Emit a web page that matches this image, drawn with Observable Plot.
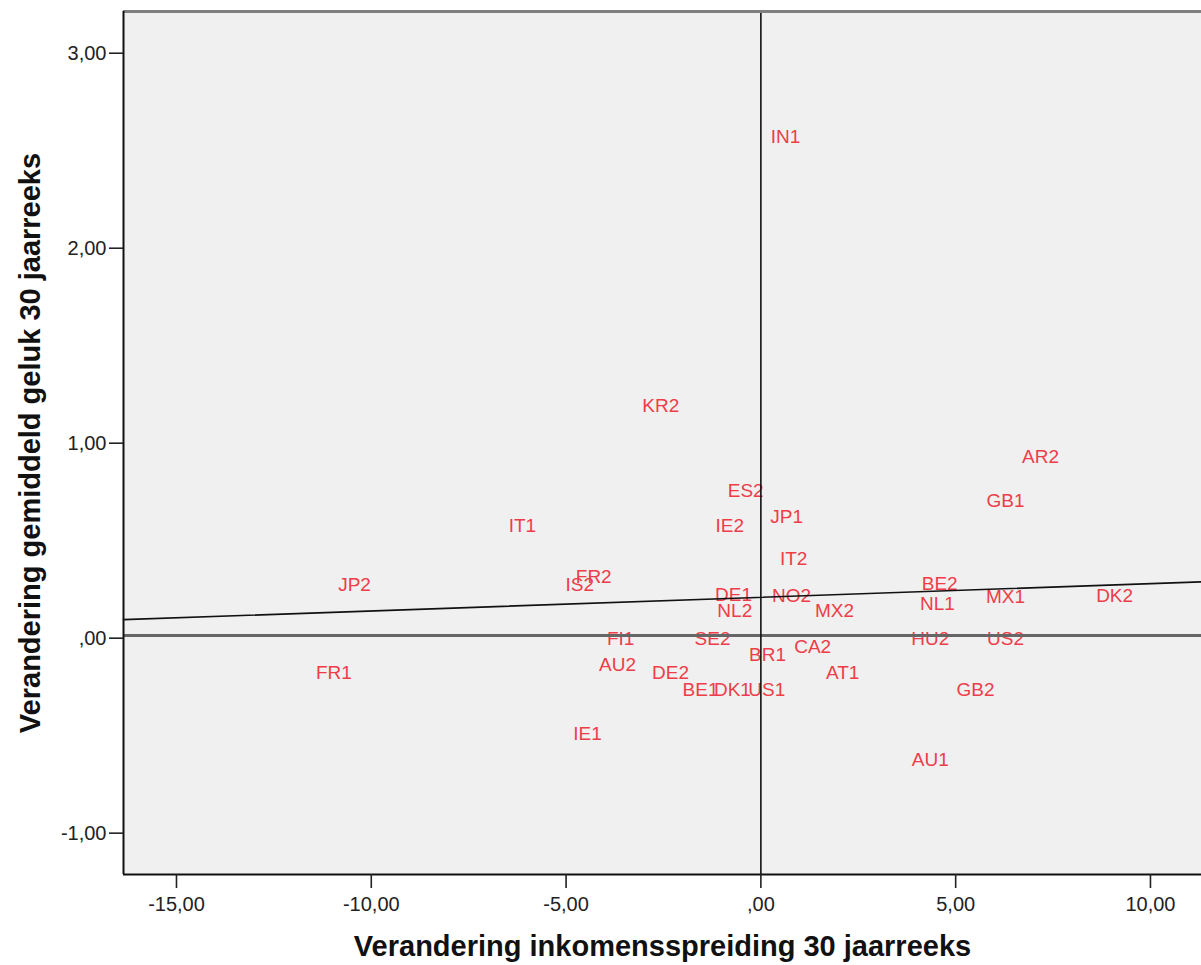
<!DOCTYPE html>
<html>
<head>
<meta charset="utf-8">
<script src="https://cdn.jsdelivr.net/npm/d3@7"></script>
<script src="https://cdn.jsdelivr.net/npm/@observablehq/plot@0.6"></script>
<style>
  html, body { margin: 0; padding: 0; background: #ffffff; }
  #chart svg { display: block; }
</style>
</head>
<body>
<div id="chart"></div>
<script>
// Country-period labels and their positions (change in income inequality, change in happiness)
const labels = ["IN1","KR2","AR2","ES2","GB1","IT1","JP1","IE2","IT2","JP2","FR2","IS2","BE2","DE1","NO2","MX1","DK2","NL1","NL2","MX2","FI1","SE2","HU2","US2","CA2","BR1","AU2","FR1","DE2","AT1","BE1","DK1","US1","GB2","IE1","AU1"];
const inkomensspreiding = [0.63,-2.57,7.18,-0.39,6.28,-6.12,0.66,-0.80,0.84,-10.43,-4.29,-4.65,4.59,-0.70,0.79,6.28,9.08,4.53,-0.67,1.89,-3.60,-1.24,4.35,6.28,1.33,0.17,-3.68,-10.96,-2.32,2.10,-1.55,-0.73,0.15,5.51,-4.45,4.35];
const geluk = [2.573,1.193,0.932,0.757,0.706,0.578,0.624,0.578,0.405,0.271,0.312,0.271,0.276,0.224,0.219,0.214,0.219,0.178,0.142,0.142,-0.002,-0.002,-0.002,-0.002,-0.043,-0.084,-0.135,-0.176,-0.176,-0.176,-0.263,-0.263,-0.263,-0.263,-0.489,-0.622];

// Fit line (endpoints across the plot) and reference lines
const fitX = [-16.36, 11.31];
const fitY = [0.095, 0.289];
const meanGeluk = 0.014;
const zeroX = 0;

// Axes
const xTicks = [-15, -10, -5, 0, 5, 10];
const yTicks = [-1, 0, 1, 2, 3];
const xDomain = [-16.36, 11.31];
const yDomain = [-1.212, 3.214];
const xTitle = "Verandering inkomensspreiding 30 jaarreeks";
const yTitle = "Verandering gemiddeld geluk 30 jaarreeks";

const points = labels.map((l, i) => ({label: l, x: inkomensspreiding[i], y: geluk[i]}));
const fitLine = fitX.map((x, i) => ({x, y: fitY[i]}));

const fmt = d => {
  let s = Math.abs(d).toFixed(2).replace(".", ",");
  if (s.startsWith("0")) s = s.slice(1);
  return (d < 0 ? "-" : "") + s;
};

const chart = Plot.plot({
  width: 1201,
  height: 965,
  marginLeft: 123,
  marginRight: 0,
  marginTop: 11,
  marginBottom: 91,
  style: {fontFamily: "'Liberation Sans', Arial, sans-serif", fontSize: "20px", background: "#ffffff", color: "#222"},
  x: {domain: xDomain},
  y: {domain: yDomain},
  marks: [
    Plot.frame({fill: "#f0f0f0", stroke: "none"}),
    Plot.text(points, {x: "x", y: "y", text: "label", fill: "#ee3d48", fontSize: 19}),
    Plot.ruleY([meanGeluk], {stroke: "#666", strokeWidth: 3}),
    Plot.ruleX([zeroX], {stroke: "#111", strokeWidth: 1.6}),
    Plot.line(fitLine, {x: "x", y: "y", stroke: "#111", strokeWidth: 1.6}),
    Plot.ruleY([yDomain[1]], {stroke: "#808080", strokeWidth: 3}),
    Plot.ruleY([yDomain[0]], {stroke: "#111", strokeWidth: 2}),
    Plot.ruleX([xDomain[0]], {stroke: "#111", strokeWidth: 2}),
    Plot.axisX({ticks: xTicks, tickFormat: fmt, tickSize: 14, tickPadding: 8, label: null, fontSize: 20, strokeWidth: 1.6}),
    Plot.axisY({ticks: yTicks, tickFormat: fmt, tickSize: 14, tickPadding: 3, label: null, fontSize: 20, strokeWidth: 1.6}),
    Plot.text([xTitle], {frameAnchor: "bottom", dy: 72, lineAnchor: "middle", textAnchor: "middle", fontSize: 29, fontWeight: "bold", fill: "#111"}),
    Plot.text([yTitle], {frameAnchor: "left", dx: -93, rotate: -90, lineAnchor: "middle", textAnchor: "middle", fontSize: 29, fontWeight: "bold", fill: "#111"})
  ]
});
document.getElementById("chart").appendChild(chart);
</script>
</body>
</html>
